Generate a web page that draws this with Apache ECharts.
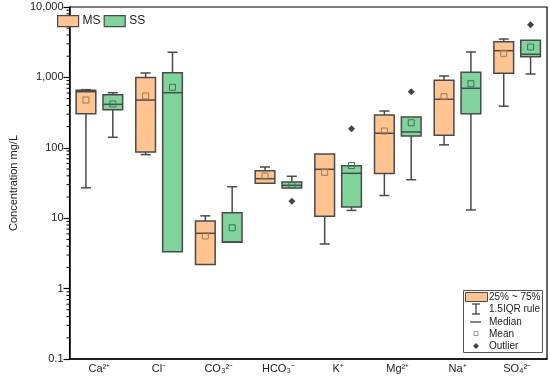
<!DOCTYPE html>
<html>
<head>
<meta charset="utf-8">
<script src="https://cdn.jsdelivr.net/npm/echarts@6/dist/echarts.min.js"></script>
<style>html,body{margin:0;padding:0;background:#fff}#c{width:550px;height:380px}</style>
</head>
<body>
<div id="c"></div>
<script>
const categories = ['Ca²⁺', 'Cl⁻', 'CO₃²⁻', 'HCO₃⁻', 'K⁺', 'Mg²⁺', 'Na⁺', 'SO₄²⁻'];
const yTickLabels = ['0.1', '1', '10', '100', '1,000', '10,000'];

// MS group
const msMin     = [27,   80,   2.2,  31.3, 4.3,  21,   110,  390];
const msQ1      = [305,  87,   2.2,  31.3, 10.7, 43,   151,  1143];
const msMedian  = [626,  477,  6.1,  36.4, 49.5, 161,  489,  2395];
const msQ3      = [656,  1000, 9.1,  47.3, 81.6, 292,  909,  3214];
const msMax     = [670,  1155, 10.8, 53.4, 81.6, 333,  1047, 3510];
const msMean    = [477,  545,  5.6,  39.7, 44.9, 173,  532,  2198];
const msOutlier = [null, null, null, null, null, null, null, null];

// SS group
const ssMin     = [141,  3.34, 4.55, 26.8, 12.9, 35.2, 13.1, 1117];
const ssQ1      = [348,  3.34, 4.55, 26.8, 14.4, 147,  305,  1968];
const ssMedian  = [415,  606,  4.6,  29.3, 43.4, 168,  700,  2130];
const ssQ3      = [568,  1166, 12.0, 32.7, 55.7, 274,  1181, 3365];
const ssMax     = [606,  2274, 28,   39.4, 55.7, 274,  2296, 3365];
const ssMean    = [420,  723,  7.3,  29.5, 56,   227,  814,  2703];
const ssOutlier = [null, null, null, 17.4, 187,  627,  null, 5605];

const minorTickValues = [];
for (let e = -1; e <= 3; e++) for (let m = 2; m <= 9; m++) minorTickValues.push([0, m * Math.pow(10, e)]);

const MS_FILL = '#FFC48F', SS_FILL = '#7FD49B';
const EDGE = '#4a4a4a';

function build(min, q1, med, q3, max, mean, out) {
  return categories.map((c, i) => [i, min[i], q1[i], med[i], q3[i], max[i], mean[i], out[i] == null ? NaN : out[i]]);
}

function makeRender(sign, fill, meanStroke) {
  return function (params, api) {
    const i = api.value(0);
    const cs = params.coordSys;
    const band = cs.width / categories.length;
    const cx = api.coord([i, api.value(3)])[0] + sign * band * 0.225;
    const bw = band * 0.33;
    const capW = 10;
    const y = k => api.coord([i, api.value(k)])[1];
    const yMin = y(1), yQ1 = y(2), yMed = y(3), yQ3 = y(4), yMax = y(5), yMean = y(6);
    const ls = { stroke: EDGE, lineWidth: 1.5 };
    const ch = [];
    if (Math.abs(yMin - yQ1) > 0.5) {
      ch.push({ type: 'line', shape: { x1: cx, y1: yQ1, x2: cx, y2: yMin }, style: ls });
      ch.push({ type: 'line', shape: { x1: cx - capW / 2, y1: yMin, x2: cx + capW / 2, y2: yMin }, style: ls });
    }
    if (Math.abs(yMax - yQ3) > 0.5) {
      ch.push({ type: 'line', shape: { x1: cx, y1: yQ3, x2: cx, y2: yMax }, style: ls });
      ch.push({ type: 'line', shape: { x1: cx - capW / 2, y1: yMax, x2: cx + capW / 2, y2: yMax }, style: ls });
    }
    ch.push({ type: 'rect', shape: { x: cx - bw / 2, y: yQ3, width: bw, height: yQ1 - yQ3 },
      style: { fill: fill, stroke: EDGE, lineWidth: 1.5 } });
    ch.push({ type: 'line', shape: { x1: cx - bw / 2, y1: yMed, x2: cx + bw / 2, y2: yMed }, style: ls });
    ch.push({ type: 'rect', shape: { x: cx - 3, y: yMean - 3, width: 6, height: 6 },
      style: { fill: 'none', stroke: meanStroke, lineWidth: 1 } });
    const ov = api.value(7);
    if (isFinite(ov)) {
      const yo = api.coord([i, ov])[1];
      ch.push({ type: 'polygon', shape: { points: [[cx, yo - 3.5], [cx + 3.5, yo], [cx, yo + 3.5], [cx - 3.5, yo]] },
        style: { fill: '#444' } });
    }
    return { type: 'group', children: ch };
  };
}

const chart = echarts.init(document.getElementById('c'), null, { renderer: 'canvas' });
const FONT = 'Liberation Sans, Arial, sans-serif';
const LF = 10;

const lx = 463.5, ly = 290.5;
chart.setOption({
  animation: false,
  textStyle: { fontFamily: FONT },
  grid: { left: 45, top: 7, right: 3, bottom: 21, show: true, borderColor: '#000', borderWidth: 1.2, backgroundColor: 'transparent' },
  legend: {
    left: 52, top: 10, itemWidth: 21, itemHeight: 11, itemGap: 3,
    textStyle: { fontSize: 12, color: '#222', fontFamily: FONT, padding: [0, 0, 0, -1] },
    data: [
      { name: 'MS', icon: 'rect', itemStyle: { color: MS_FILL, borderColor: EDGE, borderWidth: 1.2 } },
      { name: 'SS', icon: 'rect', itemStyle: { color: SS_FILL, borderColor: EDGE, borderWidth: 1.2 } }
    ]
  },
  xAxis: {
    type: 'category', data: categories, boundaryGap: true,
    axisLine: { lineStyle: { color: '#000', width: 1.5 } },
    axisTick: { alignWithLabel: true, length: 5, lineStyle: { color: '#000', width: 1.2 } },
    axisLabel: { fontSize: 11, color: '#222', margin: 4, fontFamily: FONT },
    splitLine: { show: false }
  },
  yAxis: {
    type: 'log', logBase: 10, min: 0.1, max: 10000,
    name: 'Concentration mg/L', nameLocation: 'middle', nameGap: 38,
    nameTextStyle: { fontSize: 11, color: '#222', fontFamily: FONT },
    axisLine: { show: true, lineStyle: { color: '#000', width: 1.5 } },
    axisTick: { show: true, length: 6, lineStyle: { color: '#000', width: 1.2 } },
    axisLabel: { fontSize: 11, color: '#222', margin: 6, fontFamily: FONT,
      formatter: v => { const idx = Math.round(Math.log10(v)) + 1; return yTickLabels[idx] || ''; } },
    splitLine: { show: false }
  },
  series: [
    { name: 'MS', type: 'custom', renderItem: makeRender(-1, MS_FILL, '#9b7a5c'),
      encode: { x: 0, y: [1, 2, 3, 4, 5] }, data: build(msMin, msQ1, msMedian, msQ3, msMax, msMean, msOutlier),
      itemStyle: { color: MS_FILL }, z: 3 },
    { name: 'SS', type: 'custom', renderItem: makeRender(1, SS_FILL, '#3d7653'),
      encode: { x: 0, y: [1, 2, 3, 4, 5] }, data: build(ssMin, ssQ1, ssMedian, ssQ3, ssMax, ssMean, ssOutlier),
      itemStyle: { color: SS_FILL }, z: 3 },
    { name: 'minorTicks', type: 'custom', silent: true, clip: false,
      encode: { x: 0, y: 1 }, data: minorTickValues,
      renderItem: (params, api) => {
        const x0 = params.coordSys.x;
        const yy = api.coord([0, api.value(1)])[1];
        return { type: 'line', shape: { x1: x0 - 3, y1: yy, x2: x0, y2: yy }, style: { stroke: '#000', lineWidth: 1 } };
      } }
  ],
  graphic: [
    { type: 'rect', shape: { x: lx, y: ly, width: 79, height: 62 }, style: { fill: '#fff', stroke: '#555', lineWidth: 1 }, z: 10 },
    { type: 'rect', shape: { x: 465.5, y: 292.5, width: 22, height: 9 }, style: { fill: MS_FILL, stroke: EDGE, lineWidth: 1 }, z: 11 },
    { type: 'text', x: 489, y: 297, style: { text: '25% ~ 75%', fontSize: LF, fill: '#222', fontFamily: FONT, verticalAlign: 'middle' }, z: 11 },
    { type: 'line', shape: { x1: 476, y1: 304, x2: 476, y2: 314 }, style: { stroke: '#333', lineWidth: 1.2 }, z: 11 },
    { type: 'line', shape: { x1: 472, y1: 304, x2: 480, y2: 304 }, style: { stroke: '#333', lineWidth: 1.2 }, z: 11 },
    { type: 'line', shape: { x1: 472, y1: 314, x2: 480, y2: 314 }, style: { stroke: '#333', lineWidth: 1.2 }, z: 11 },
    { type: 'text', x: 489, y: 309, style: { text: '1.5IQR rule', fontSize: LF, fill: '#222', fontFamily: FONT, verticalAlign: 'middle' }, z: 11 },
    { type: 'line', shape: { x1: 470, y1: 322, x2: 481, y2: 322 }, style: { stroke: '#333', lineWidth: 1.2 }, z: 11 },
    { type: 'text', x: 489, y: 322, style: { text: 'Median', fontSize: LF, fill: '#222', fontFamily: FONT, verticalAlign: 'middle' }, z: 11 },
    { type: 'rect', shape: { x: 474, y: 331.5, width: 4, height: 4 }, style: { fill: 'none', stroke: '#999', lineWidth: 1 }, z: 11 },
    { type: 'text', x: 489, y: 334, style: { text: 'Mean', fontSize: LF, fill: '#222', fontFamily: FONT, verticalAlign: 'middle' }, z: 11 },
    { type: 'polygon', shape: { points: [[476, 343], [479, 346], [476, 349], [473, 346]] }, style: { fill: '#444' }, z: 11 },
    { type: 'text', x: 489, y: 346, style: { text: 'Outlier', fontSize: LF, fill: '#222', fontFamily: FONT, verticalAlign: 'middle' }, z: 11 }
  ]
});
</script>
</body>
</html>
